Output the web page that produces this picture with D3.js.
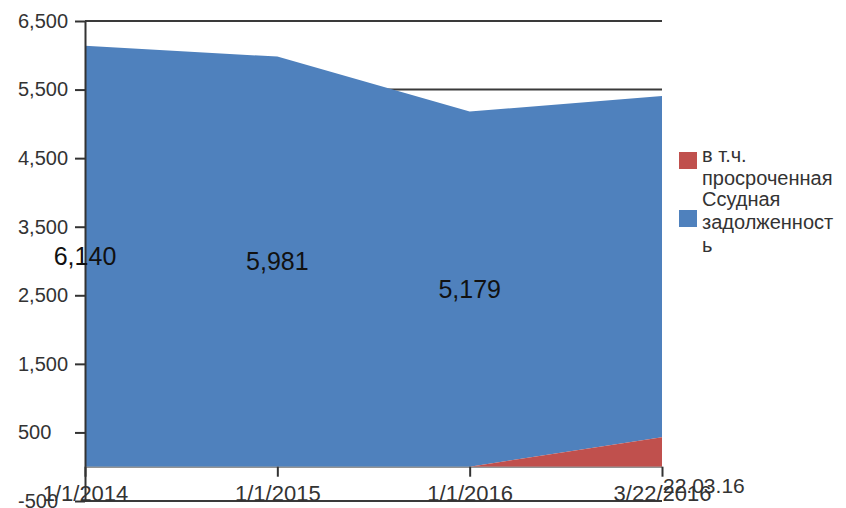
<!DOCTYPE html>
<html>
<head>
<meta charset="utf-8">
<script src="https://cdn.jsdelivr.net/npm/d3@7"></script>
<style>
  html, body { margin: 0; padding: 0; background: #fff; }
  svg { display: block; font-family: "Liberation Sans", Arial, sans-serif; }
</style>
</head>
<body>
<svg id="chart" width="846" height="508"></svg>
<script>
// ---- data ----
const categories = ["1/1/2014", "1/1/2015", "1/1/2016", "3/22/2016"];
const overdueValues = [0, 0, 0, 430];            // в т.ч. просроченная
const loanValues = [6140, 5981, 5179, 4975];      // Ссудная задолженность (stacked above)
const dataLabels = ["6,140", "5,981", "5,179", null];
const yTicks = [-500, 500, 1500, 2500, 3500, 4500, 5500, 6500];
const seriesNames = ["в т.ч. просроченная", "Ссудная задолженность"];
const legendLines = [["в т.ч.", "просроченная"], ["Ссудная", "задолженност", "ь"]];
const extraLabel = "22.03.16";

const colors = { overdue: "#c0504d", loan: "#4f81bd" };

const svg = d3.select("#chart");
const mLeft = 85, mRight = 662, mTop = 21, mBottom = 501;

const x = d3.scalePoint().domain(categories).range([mLeft, mRight]);
const y = d3.scaleLinear().domain([-500, 6500]).range([mBottom, mTop]);

const rows = categories.map((c, i) => ({ cat: c, overdue: overdueValues[i], loan: loanValues[i] }));
const stacked = d3.stack().keys(["overdue", "loan"])(rows);

// gridlines (behind areas)
svg.append("g")
  .selectAll("line")
  .data(yTicks)
  .join("line")
  .attr("x1", mLeft).attr("x2", mRight)
  .attr("y1", d => y(d)).attr("y2", d => y(d))
  .attr("stroke", "#3a3a3a").attr("stroke-width", 2);

// areas: draw loan first, then overdue on top
const area = d3.area()
  .x(d => x(d.data.cat))
  .y0(d => y(d[0]))
  .y1(d => y(d[1]));

svg.append("path").datum(stacked[1]).attr("d", area).attr("fill", colors.loan);
svg.append("path").datum(stacked[0]).attr("d", area).attr("fill", colors.overdue);

// y axis
const fmt = d3.format(",");
const yAxis = svg.append("g")
  .attr("transform", `translate(${mLeft},0)`)
  .call(d3.axisLeft(y).tickValues(yTicks).tickFormat(d => fmt(d).replace("\u2212", "-")).tickSize(10).tickSizeOuter(0));
yAxis.select(".domain").attr("stroke", "#333").attr("stroke-width", 2);
yAxis.selectAll(".tick line").attr("stroke", "#333").attr("stroke-width", 2);
yAxis.selectAll(".tick text")
  .attr("x", 18 - mLeft)
  .attr("text-anchor", "start")
  .attr("font-size", 20)
  .attr("font-family", "Liberation Sans, Arial, sans-serif")
  .attr("fill", "#333");

// x axis at zero
const xAxis = svg.append("g")
  .attr("transform", `translate(0,${y(0)})`)
  .call(d3.axisBottom(x).tickSize(10).tickSizeOuter(0).tickPadding(9));
xAxis.select(".domain").attr("stroke", "#666").attr("stroke-width", 1);
xAxis.selectAll(".tick line").attr("stroke", "#333").attr("stroke-width", 2);
xAxis.selectAll(".tick text")
  .attr("font-size", 22)
  .attr("font-family", "Liberation Sans, Arial, sans-serif")
  .attr("fill", "#333");

// extra label
svg.append("text")
  .attr("x", x(categories[3]) + 1)
  .attr("y", y(0) + 26)
  .attr("font-size", 21)
  .attr("fill", "#333")
  .text(extraLabel);

// data labels at the middle of the loan band
svg.append("g")
  .selectAll("text")
  .data(stacked[1].filter((d, i) => dataLabels[i]))
  .join("text")
  .attr("x", d => x(d.data.cat))
  .attr("y", d => y((d[0] + d[1]) / 2))
  .attr("dy", "0.35em")
  .attr("text-anchor", "middle")
  .attr("font-size", 25)
  .attr("fill", "#111")
  .text(d => dataLabels[categories.indexOf(d.data.cat)]);

// legend
const legend = svg.append("g");
const legendItems = [
  { color: colors.overdue, lines: legendLines[0], boxY: 152, firstBase: 162 },
  { color: colors.loan, lines: legendLines[1], boxY: 210, firstBase: 206 }
];
legendItems.forEach(it => {
  legend.append("rect")
    .attr("x", 679).attr("y", it.boxY)
    .attr("width", 18).attr("height", 17)
    .attr("fill", it.color);
  it.lines.forEach((t, j) => {
    legend.append("text")
      .attr("x", 702)
      .attr("y", it.firstBase + j * 23)
      .attr("font-size", 20)
      .attr("fill", "#333")
      .text(t);
  });
});
</script>
</body>
</html>
